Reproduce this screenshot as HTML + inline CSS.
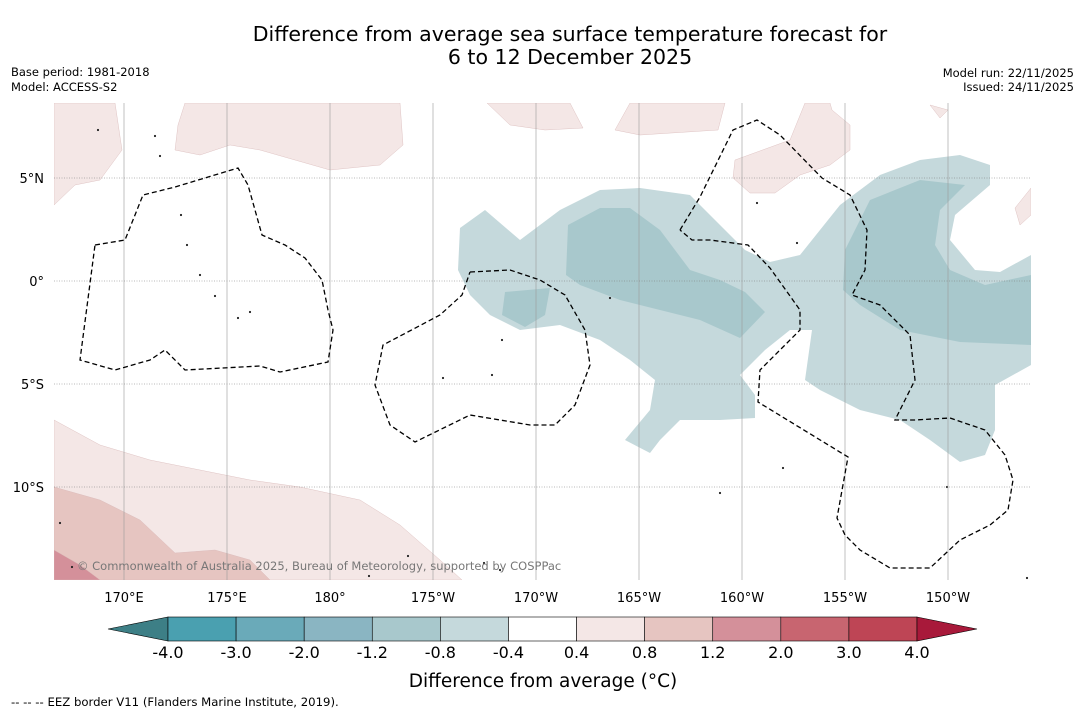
<!DOCTYPE html>
<html><head><meta charset="utf-8"><style>
body{margin:0;background:#fff;font-family:"Liberation Sans","DejaVu Sans",sans-serif;}
svg text{font-family:"DejaVu Sans","Liberation Sans",sans-serif;}
</style></head><body>
<svg id="c" width="1085" height="713" xmlns="http://www.w3.org/2000/svg">
<rect width="1085" height="713" fill="#fff"/>
<text x="570" y="41" font-size="20.5" text-anchor="middle">Difference from average sea surface temperature forecast for</text>
<text x="570" y="64" font-size="20.5" text-anchor="middle">6 to 12 December 2025</text>
<text x="11" y="76" font-size="11.5">Base period: 1981-2018</text>
<text x="11" y="91" font-size="11.5">Model: ACCESS-S2</text>
<text x="1074" y="77" font-size="11.5" text-anchor="end">Model run: 22/11/2025</text>
<text x="1074" y="91" font-size="11.5" text-anchor="end">Issued: 24/11/2025</text>
<defs><clipPath id="mapclip"><rect x="54" y="103" width="977" height="477"/></clipPath></defs>
<g id="map" clip-path="url(#mapclip)"></g>
<g id="grid"></g>
<g id="eez" clip-path="url(#mapclip)"></g>
<text x="77" y="570" font-size="11.5" fill="#777">© Commonwealth of Australia 2025, Bureau of Meteorology, supported by COSPPac</text>
<g id="cbar"></g>
<text x="543" y="687" font-size="18.5" text-anchor="middle">Difference from average (°C)</text>
<text x="11" y="706" font-size="11.7">--  --  -- EEZ border V11 (Flanders Marine Institute, 2019).</text>
</svg>
<script>
const NS="http://www.w3.org/2000/svg";
const lonTicks=[170,175,180,185,190,195,200,205,210];
const lonLabels=["170°E","175°E","180°","175°W","170°W","165°W","160°W","155°W","150°W"];
const latTicks=[5,0,-5,-10];
const latLabels=["5°N","0°","5°S","10°S"];
const levels=["-4.0","-3.0","-2.0","-1.2","-0.8","-0.4","0.4","0.8","1.2","2.0","3.0","4.0"];
const levelColors=["#4aa0b0","#6aaab9","#8ab5c2","#a8c8cc","#c5d9dc","#ffffff","#f4e7e6","#e6c5c1","#d4909a","#c86570","#be4555"];
const X=lon=>124+(lon-170)*20.6;
const Y=lat=>281-lat*20.6;
function el(t,a,p){const e=document.createElementNS(NS,t);for(const k in a)e.setAttribute(k,a[k]);p.appendChild(e);return e;}
const map=document.getElementById('map');
const shapes=[
 ["#c5d9dc","P 460,228 485,210 520,240 560,210 600,190 640,188 690,195 720,225 745,250 770,262 800,255 840,205 880,175 920,160 960,155 990,165 990,185 955,215 950,240 975,270 1000,272 1031,255 1031,365 995,385 995,430 985,455 960,462 930,440 900,420 860,410 820,390 805,380 812,330 790,330 765,350 740,375 755,395 755,418 720,420 680,420 660,440 650,453 625,440 650,410 655,380 630,360 600,340 560,325 520,330 490,315 470,295 458,270"],
 ["#a8c8cc","P 568,225 600,208 630,208 660,230 690,270 720,280 745,292 765,312 740,338 700,320 660,310 620,300 580,285 566,275"],
 ["#a8c8cc","P 845,250 870,200 920,180 965,185 940,210 935,245 950,270 985,285 1031,275 1031,345 960,342 900,330 860,305 843,290"],
 ["#a8c8cc","P 505,292 550,288 545,315 525,327 502,315"],
 ["#f4e7e6","P 54,103 115,103 122,150 100,180 75,185 54,205"],
 ["#f4e7e6","P 185,103 400,103 403,145 380,165 330,170 260,150 230,145 200,155 175,150 178,125"],
 ["#f4e7e6","P 487,103 570,103 583,128 545,130 510,125"],
 ["#f4e7e6","P 630,103 725,103 718,130 640,135 615,130"],
 ["#f4e7e6","P 735,160 790,140 805,103 830,103 832,110 850,125 850,150 830,165 800,175 775,193 750,193 733,178"],
 ["#f4e7e6","P 930,105 948,110 940,118"],
 ["#f4e7e6","P 1031,188 1015,208 1020,225 1031,215"],
 ["#f4e7e6","P 54,420 100,445 150,460 200,470 250,480 300,487 360,500 400,525 440,560 462,580 54,580"],
 ["#e6c5c1","P 54,487 100,500 140,520 175,553 215,550 250,560 270,580 54,580"],
 ["#d4909a","P 54,550 80,565 100,580 54,580"]
];
shapes.forEach((s,i)=>{const p=el('polygon',{points:s[1].slice(2),fill:s[0],stroke:s[0]=="#c5d9dc"||s[0]=="#a8c8cc"?"none":"#d8b8b8","stroke-width":0.4},map);

});
const islands=[[187,245],[200,275],[215,296],[238,318],[250,312],[60,523],[72,567],[484,563],[500,570],[757,203],[797,243],[502,340],[610,298],[720,493],[947,487],[1027,578],[181,215],[155,136],[98,130],[443,378],[492,375],[783,468],[408,556],[369,576],[160,156]];
islands.forEach(d=>{const c=el('circle',{cx:d[0],cy:d[1],r:1.1,fill:"#222"},map);

});
const grid=document.getElementById('grid');
lonTicks.forEach((lon,i)=>{const l=el('line',{x1:X(lon),x2:X(lon),y1:103,y2:580,stroke:"#999","stroke-width":0.6},grid);


const t=el('text',{x:X(lon),y:602,"font-size":13,"text-anchor":"middle"},grid);t.textContent=lonLabels[i];

});
latTicks.forEach((lat,i)=>{const l=el('line',{x1:54,x2:1031,y1:Y(lat),y2:Y(lat),stroke:"#777","stroke-width":0.6,"stroke-dasharray":"1,1.5"},grid);


const t=el('text',{x:44,y:Y(lat)+5,"font-size":13,"text-anchor":"end"},grid);t.textContent=latLabels[i];

});
const eez=document.getElementById('eez');
const eezLines=[
"95,245 125,240 143,195 175,187 238,168 248,185 262,235 285,245 305,258 322,280 328,310 333,330 328,362 280,372 260,366 185,370 165,350 150,360 115,370 80,360 95,245",
"470,272 510,270 540,280 565,295 585,330 590,365 575,405 555,425 530,425 470,415 415,442 390,425 375,385 383,345 440,315 462,295 470,272",
"680,230 700,197 733,130 757,120 780,135 822,178 850,195 867,230 865,270 852,295 880,305 910,335 915,380 895,420 915,420 950,418 985,430 1005,455 1013,480 1008,510 990,525 960,540 930,568 890,568 860,550 845,535 837,518 848,457 758,402 760,370 800,330 800,310 770,268 748,245 710,240 692,240 680,230"];
eezLines.forEach(p=>{const e=el('polyline',{points:p,fill:"none",stroke:"#000","stroke-width":1.3,"stroke-dasharray":"5,3"},eez);

});
const cb=document.getElementById('cbar');
const cbX0=168,cbX1=917,cbY=617,cbH=24,w=(cbX1-cbX0)/levelColors.length;
const la=el('polygon',{points:`108,629 ${cbX0},${cbY} ${cbX0},${cbY+cbH}`,fill:"#3d7f86",stroke:"#000","stroke-width":0.6},cb);

levelColors.forEach((c,i)=>{const r=el('rect',{x:cbX0+i*w,y:cbY,width:w,height:cbH,fill:c,stroke:"#000","stroke-width":0.6},cb);

});
const ra=el('polygon',{points:`${cbX1},${cbY} 977,629 ${cbX1},${cbY+cbH}`,fill:"#a8193a",stroke:"#000","stroke-width":0.6},cb);

levels.forEach((v,i)=>{const t=el('text',{x:cbX0+i*w,y:658,"font-size":16,"text-anchor":"middle"},cb);t.textContent=v;

});
</script>
</body></html>
